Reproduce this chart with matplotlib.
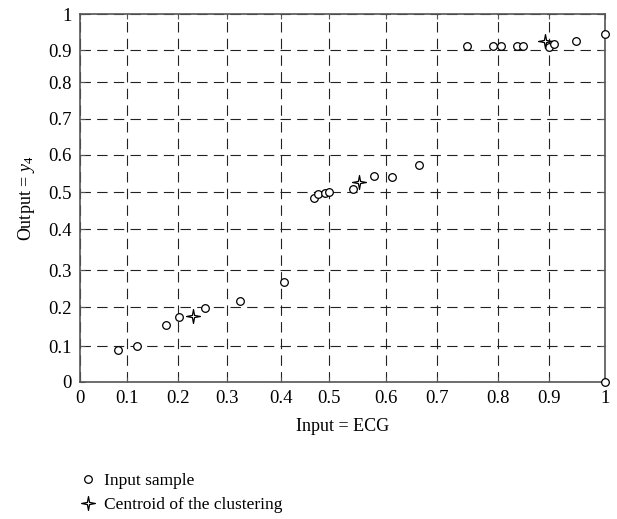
import numpy as np
import matplotlib
matplotlib.use('Agg')
import matplotlib.pyplot as plt
from matplotlib.path import Path

# tick values and where each sits along the axis (the figure is not evenly spaced)
x_ticks = [0, 0.1, 0.2, 0.3, 0.4, 0.5, 0.6, 0.7, 0.8, 0.9, 1]
x_frac = [0, 0.0896, 0.186, 0.280, 0.383, 0.474, 0.582, 0.680, 0.796, 0.894, 1]
y_ticks = [0, 0.1, 0.2, 0.3, 0.4, 0.5, 0.6, 0.7, 0.8, 0.9, 1]
y_frac = [0, 0.097, 0.203, 0.303, 0.415, 0.515, 0.618, 0.715, 0.8145, 0.902, 1]

# input samples
sample_x = [0.08, 0.119, 0.176, 0.203, 0.256, 0.324, 0.407, 0.468, 0.478, 0.491,
            0.501, 0.542, 0.58, 0.612, 0.666, 0.749, 0.792, 0.807, 0.838, 0.848,
            0.90, 0.908, 0.948, 1.0, 1.0]
sample_y = [0.09, 0.10, 0.155, 0.176, 0.198, 0.218, 0.27, 0.486, 0.497, 0.498,
            0.50, 0.509, 0.5425, 0.54, 0.5725, 0.91, 0.91, 0.91, 0.91, 0.91,
            0.909, 0.918, 0.924, 0.9435, 0.0]

# centroids of the clustering
centroid_x = [0.231, 0.554, 0.891]
centroid_y = [0.178, 0.527, 0.926]


def warp(vals, fracs):
    fwd = lambda v: np.interp(v, vals, fracs)
    inv = lambda f: np.interp(f, fracs, vals)
    return fwd, inv


def star_marker():
    verts = []
    for k in range(4):
        a = np.pi / 2 + k * np.pi / 2
        verts.append((np.cos(a), np.sin(a)))
        b = a + np.pi / 4
        verts.append((0.22 * np.cos(b), 0.22 * np.sin(b)))
    verts.append(verts[0])
    codes = [Path.MOVETO] + [Path.LINETO] * 7 + [Path.CLOSEPOLY]
    return Path(verts, codes)


plt.rcParams['font.family'] = ['Liberation Serif', 'DejaVu Serif']
plt.rcParams['mathtext.fontset'] = 'custom'
plt.rcParams['mathtext.rm'] = 'Liberation Serif'
plt.rcParams['mathtext.it'] = 'Liberation Serif:italic'
plt.rcParams['lines.scale_dashes'] = False

fig = plt.figure(figsize=(6.17, 5.19), dpi=100)
ax = fig.add_axes([0.1297, 0.264, 0.8508, 0.709])

ax.set_xscale('function', functions=warp(x_ticks, x_frac))
ax.set_yscale('function', functions=warp(y_ticks, y_frac))
ax.set_xlim(0, 1)
ax.set_ylim(0, 1)
ax.set_xticks(x_ticks)
ax.set_yticks(y_ticks)
ax.set_xticklabels(['%g' % t for t in x_ticks])
ax.set_yticklabels(['%g' % t for t in y_ticks])
ax.minorticks_off()

ax.grid(True, color='#222222', linewidth=0.8, linestyle=(0, (7.5, 4.5)))
ax.set_axisbelow(True)
for s in ax.spines.values():
    s.set_color('#555555')
    s.set_linewidth(1.2)
ax.tick_params(direction='in', length=3.5, width=0.8, color='#555555',
               top=True, right=True, labelsize=13.5, pad=6)

ax.plot(sample_x, sample_y, linestyle='none', marker='o', ms=5.5,
        mfc='white', mec='black', mew=0.9, clip_on=False, zorder=3,
        label='Input sample')
ax.plot(centroid_x, centroid_y, linestyle='none', marker=star_marker(), ms=10,
        mfc='white', mec='black', mew=0.9, clip_on=False, zorder=4,
        label='Centroid of the clustering')

ax.set_xlabel('Input = ECG', fontsize=13, labelpad=8)
ax.set_ylabel('Output = $y_4$', fontsize=13, labelpad=8)

fig.legend(loc='upper left', bbox_to_anchor=(0.118, 0.103), frameon=False,
           fontsize=12.5, handlelength=1.0, handletextpad=0.4,
           labelspacing=0.45, borderaxespad=0)

fig.savefig('out.png', dpi=100)
